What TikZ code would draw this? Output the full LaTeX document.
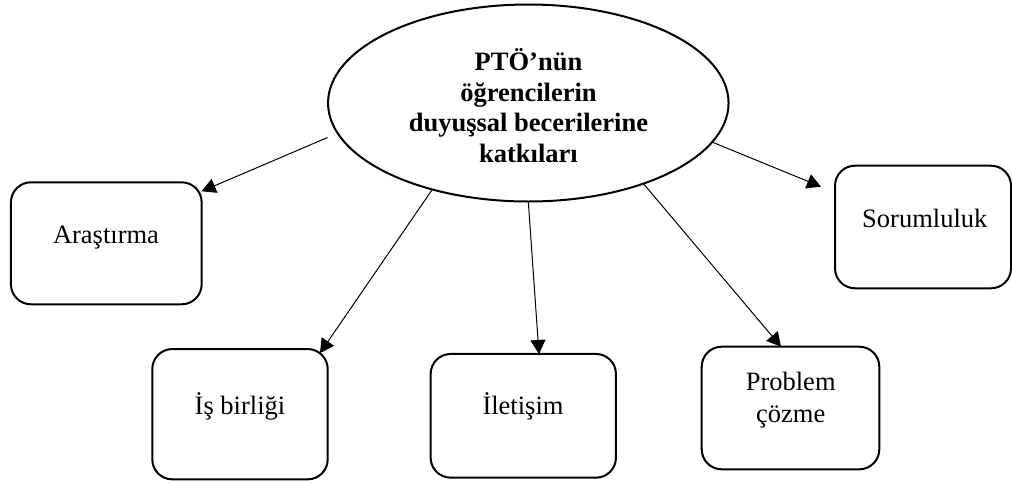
\documentclass[tikz,border=0pt]{standalone}
\usepackage{fontspec}
\setmainfont{Liberation Serif}
\usetikzlibrary{shapes.geometric,arrows.meta}
\begin{document}
\begin{tikzpicture}[x=1pt,y=-1pt,
  boxnode/.style={draw, line width=2pt, rounded corners=20pt, rectangle, inner sep=0pt, outer sep=0pt},
  ovalnode/.style={draw, line width=2pt, ellipse, inner sep=0pt, outer sep=0pt},
  otext/.style={inner sep=0pt, align=center, font=\bfseries\fontsize{26.5}{30.6}\selectfont},
  lbl/.style={anchor=base, inner sep=0pt, align=center, font=\fontsize{26.5}{31.5}\selectfont},
  conn/.style={line width=1pt, -{Triangle[length=14pt,width=15pt]}}]
\useasboundingbox (0,0) rectangle (1012,482);

\node[ovalnode, minimum width=400.5pt, minimum height=197pt] (e) at (528.3,103) {};
\node[otext] (et) at (528.5,105.5)
  {PTÖ’nün\\öğrencilerin\\duyuşsal becerilerine\\katkıları};

\node[boxnode, minimum width=190.7pt, minimum height=122pt] (a) at (106.3,243.3) {};
\node[boxnode, minimum width=175.4pt, minimum height=130.3pt] (b) at (240,414.2) {};
\node[boxnode, minimum width=185.3pt, minimum height=123.7pt] (c) at (523.3,415.8) {};
\node[boxnode, minimum width=177.6pt, minimum height=122.6pt] (d) at (790.5,408) {};
\node[boxnode, minimum width=176pt, minimum height=122.6pt] (s) at (923,227) {};

\node[lbl] (at) at (106,243) {Araştırma};
\node[lbl] (bt) at (240,414) {İş birliği};
\node[lbl] (ct) at (523,414) {İletişim};
\node[lbl, anchor=north] (dt) at (790.7,372) {Problem\\çözme};
\node[lbl] (st) at (924.8,227.7) {Sorumluluk};

\draw[conn, shorten <=11pt] (e.189.75) -- ([yshift=-9pt]a.north east);
\draw[conn] (e.222.1) -- ([xshift=-7.7pt,yshift=-4pt]b.north east);
\draw[conn] (e.270) -- ([xshift=15.7pt]c.north);
\draw[conn] (e.325.8) -- ([xshift=-9.5pt]d.north);
\draw[conn] (e.348.2) -- ([xshift=-14pt,yshift=-21pt]s.north west);
\end{tikzpicture}
\end{document}
